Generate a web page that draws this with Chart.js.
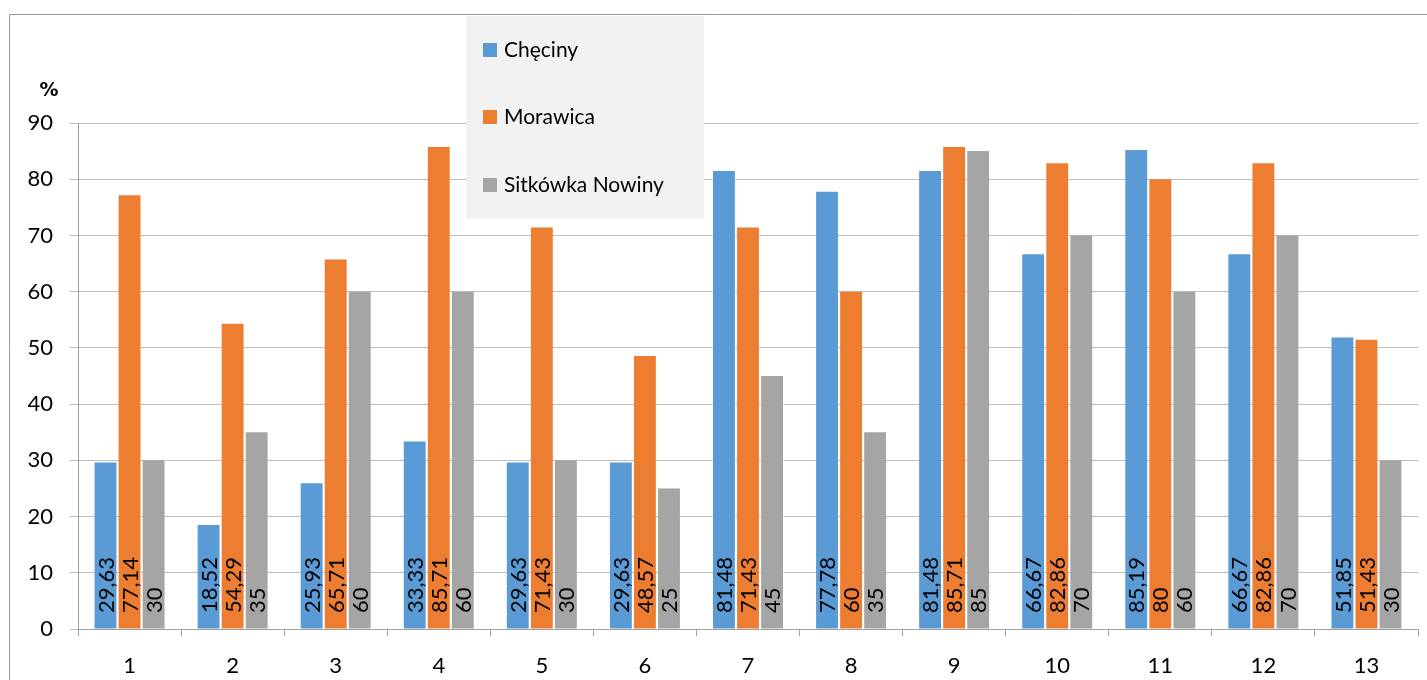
<!DOCTYPE html>
<html>
<head>
<meta charset="utf-8">
<script src="https://cdn.jsdelivr.net/npm/chart.js@4.4.0/dist/chart.umd.min.js"></script>
<style>
  html, body { margin: 0; padding: 0; background: #fff; }
  #wrap { width: 1427px; height: 680px; position: relative; }
</style>
</head>
<body>
<div id="wrap"><canvas id="barChart"></canvas></div>
<script>
// dane z wykresu
const categories = ['1', '2', '3', '4', '5', '6', '7', '8', '9', '10', '11', '12', '13'];
const seriesNames = ['Chęciny', 'Morawica', 'Sitkówka Nowiny'];
const checiny = [29.63, 18.52, 25.93, 33.33, 29.63, 29.63, 81.48, 77.78, 81.48, 66.67, 85.19, 66.67, 51.85];
const morawica = [77.14, 54.29, 65.71, 85.71, 71.43, 48.57, 71.43, 60, 85.71, 82.86, 80, 82.86, 51.43];
const sitkowka = [30, 35, 60, 60, 30, 25, 45, 35, 85, 70, 60, 70, 30];
const yTicks = [0, 10, 20, 30, 40, 50, 60, 70, 80, 90];

const colors = ['#5b9bd5', '#ed7d31', '#a5a5a5'];
const FONT = 'Lato, "Open Sans", sans-serif';

// ramka, legenda, etykieta osi i wartosci na slupkach
const extras = {
  id: 'extras',
  beforeDraw(chart) {
    const c = chart.ctx;
    c.save();
    c.strokeStyle = '#999';
    c.lineWidth = 1;
    c.beginPath();
    c.moveTo(9.5, 690);
    c.lineTo(9.5, 14.5);
    c.lineTo(1440, 14.5);
    c.stroke();
    c.restore();
  },
  afterDatasetsDraw(chart) {
    const c = chart.ctx;
    const base = chart.scales.y.getPixelForValue(0);
    c.save();
    c.font = '22px ' + FONT;
    c.fillStyle = '#000';
    c.textAlign = 'left';
    c.textBaseline = 'middle';
    chart.data.datasets.forEach((ds, i) => {
      chart.getDatasetMeta(i).data.forEach((bar, j) => {
        const txt = String(ds.data[j]).replace('.', ',');
        c.save();
        c.translate(bar.x + 1, base - 16);
        c.rotate(-Math.PI / 2);
        c.fillText(txt, 0, 0);
        c.restore();
      });
    });

    // legenda
    c.fillStyle = '#f2f2f2';
    c.fillRect(466, 16, 238, 203);
    const rows = [50, 117, 185];
    c.font = '21px ' + FONT;
    chart.data.datasets.forEach((ds, i) => {
      c.fillStyle = ds.backgroundColor;
      c.fillRect(483, rows[i] - 7, 14, 14);
      c.fillStyle = '#000';
      c.fillText(ds.label, 504, rows[i]);
    });

    // jednostka
    c.font = 'bold 19px "DejaVu Sans", sans-serif';
    c.textAlign = 'center';
    c.fillText('%', 49, 91);
    c.restore();
  }
};

new Chart(document.getElementById('barChart'), {
  type: 'bar',
  data: {
    labels: categories,
    datasets: [
      { label: seriesNames[0], data: checiny, backgroundColor: colors[0] },
      { label: seriesNames[1], data: morawica, backgroundColor: colors[1] },
      { label: seriesNames[2], data: sitkowka, backgroundColor: colors[2] }
    ]
  },
  options: {
    responsive: true,
    maintainAspectRatio: false,
    animation: false,
    datasets: { bar: { categoryPercentage: 0.70, barPercentage: 0.91 } },
    layout: { padding: { left: 0, top: 123, right: 9, bottom: 0 } },
    plugins: { legend: { display: false }, tooltip: { enabled: false } },
    scales: {
      x: {
        afterFit(s) { s.height = 51; },
        grid: { drawOnChartArea: false, drawTicks: true, tickLength: 7, color: '#a0a0a0', offset: true },
        border: { display: true, color: '#a0a0a0' },
        ticks: { color: '#000', font: { family: FONT, size: 22 }, padding: 17 }
      },
      y: {
        min: 0,
        max: 90,
        afterFit(s) { s.width = 78; },
        afterBuildTicks(s) { s.ticks = yTicks.map(v => ({ value: v })); },
        grid: { color: '#bfbfbf', tickLength: 8 },
        border: { display: true, color: '#a0a0a0' },
        ticks: { color: '#000', font: { family: FONT, size: 22 }, padding: 17 }
      }
    }
  },
  plugins: [extras]
});
</script>
</body>
</html>
